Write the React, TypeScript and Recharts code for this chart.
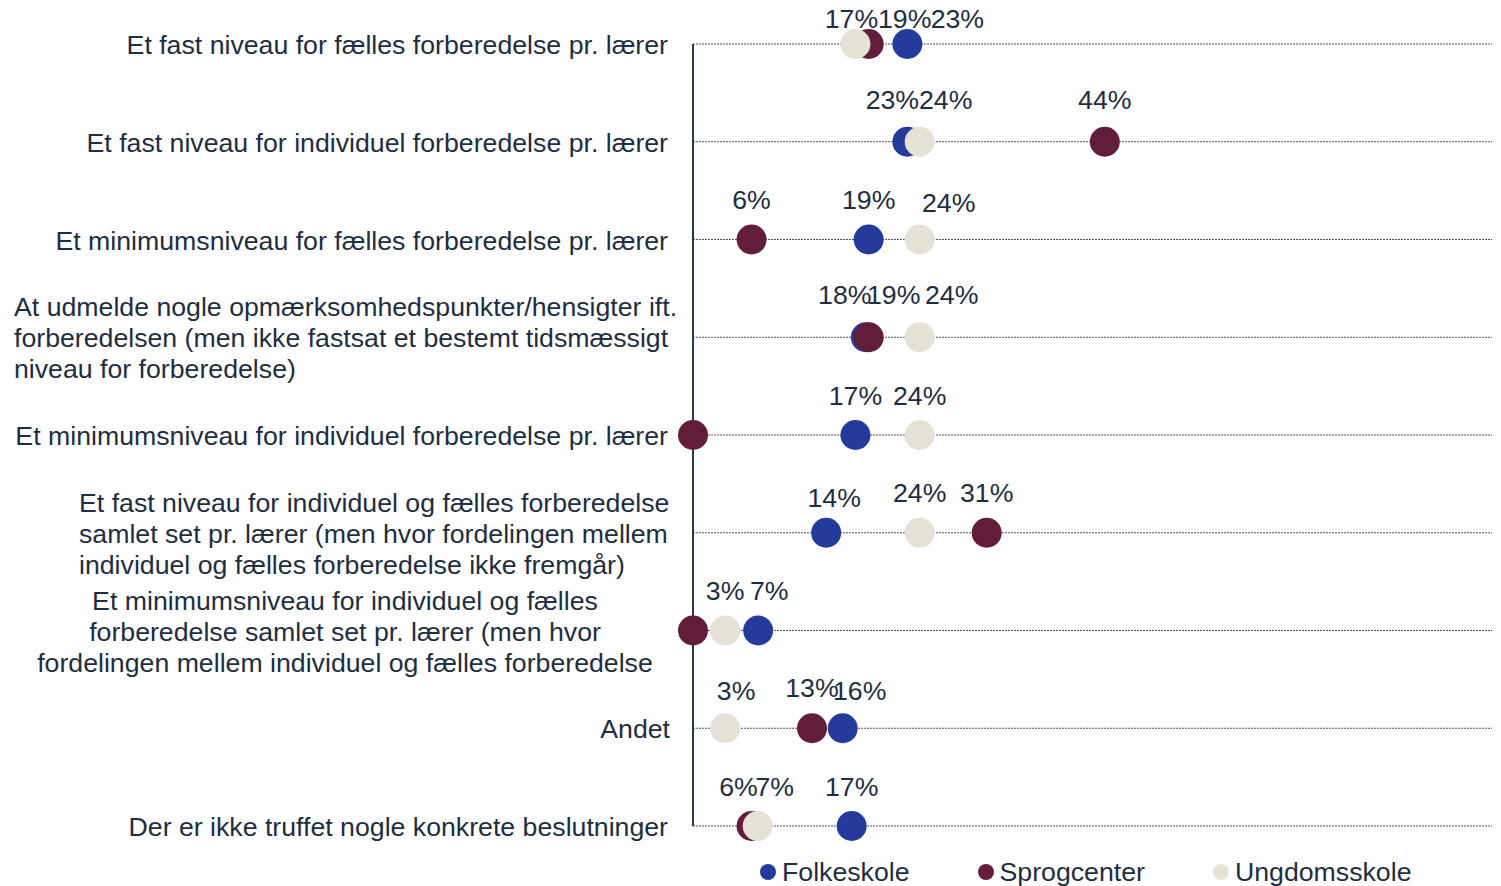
import React from 'react';
import { ScatterChart, Scatter, XAxis, YAxis, CartesianGrid, Legend } from 'recharts';

// ---------- DATA ----------
const categoryLines: string[][] = [
  ['Et fast niveau for fælles forberedelse pr. lærer'],
  ['Et fast niveau for individuel forberedelse pr. lærer'],
  ['Et minimumsniveau for fælles forberedelse pr. lærer'],
  [
    'At udmelde nogle opmærksomhedspunkter/hensigter ift.',
    'forberedelsen (men ikke fastsat et bestemt tidsmæssigt',
    'niveau for forberedelse)',
  ],
  ['Et minimumsniveau for individuel forberedelse pr. lærer'],
  [
    'Et fast niveau for individuel og fælles forberedelse',
    'samlet set pr. lærer (men hvor fordelingen mellem',
    'individuel og fælles forberedelse ikke fremgår)',
  ],
  [
    'Et minimumsniveau for individuel og fælles',
    'forberedelse samlet set pr. lærer (men hvor',
    'fordelingen mellem individuel og fælles forberedelse',
  ],
  ['Andet'],
  ['Der er ikke truffet nogle konkrete beslutninger'],
];

const seriesNames = ['Folkeskole', 'Sprogcenter', 'Ungdomsskole'];

// percentages, one per category row (top to bottom)
const folkeskole = [22.7, 22.7, 18.6, 18.3, 17.2, 14.1, 6.9, 15.85, 16.8];
const sprogcenter = [18.6, 43.6, 6.2, 18.6, 0, 31.1, 0, 12.6, 6.2];
const ungdomsskole = [17.2, 24, 24, 24, 24, 24, 3.4, 3.4, 6.85];

const xDomainMax = 84.6;

// ---------- STYLE / LAYOUT ----------
const COLORS = ['#243B9C', '#621D3B', '#E6E1D6'];
const TEXT_COLOR = '#1E2E42';
const FONT = '"Liberation Sans", Arial, sans-serif';
const FONT_SIZE = 26.7;
const LINE_H = 31;
const AXIS_X = 685;
const DOT_R = 15;

// label alignment per category row
const TICK_ALIGN: { anchor: 'start' | 'middle' | 'end'; x: number }[] = [
  { anchor: 'end', x: 660 },
  { anchor: 'end', x: 660 },
  { anchor: 'end', x: 660 },
  { anchor: 'start', x: 6 },
  { anchor: 'end', x: 660 },
  { anchor: 'start', x: 71 },
  { anchor: 'middle', x: 337 },
  { anchor: 'end', x: 662 },
  { anchor: 'end', x: 660 },
];

// manual data-label nudges [dx, dy] per series per row (to avoid overlaps)
const LABEL_NUDGE: number[][][] = [
  [[50, 14], [-15, -2], [0, 0], [-21, -3], [0, 0], [8, 5], [11, 0], [17, 2], [0, 0]],
  [[36, 14], [0, -2], [0, 0], [25, -3], [0, 0], [0, 0], [0, 0], [0, -1], [-13, 0]],
  [[-4, 14], [26, -2], [29, 3], [32, -3], [0, 0], [0, 0], [0, 0], [11, 2], [17, 0]],
];

const seriesValues = [folkeskole, sprogcenter, ungdomsskole];
const seriesData = seriesValues.map((vals) => vals.map((v, i) => ({ x: v, y: i })));
const rowTicks = categoryLines.map((_, i) => i);

const makeShape = (s: number) => (props: any) => {
  const { cx, cy, payload } = props;
  if (cx == null || cy == null) return <g />;
  const row = payload.y as number;
  const value = payload.x as number;
  const rounded = Math.round(value);
  const [dx, dy] = LABEL_NUDGE[s][row];
  return (
    <g>
      <circle cx={cx} cy={cy} r={DOT_R} fill={COLORS[s]} />
      {rounded !== 0 && (
        <text
          x={cx + dx}
          y={cy - 30.5 + dy}
          textAnchor="middle"
          fill={TEXT_COLOR}
          fontSize={FONT_SIZE}
          fontFamily={FONT}
        >
          {`${rounded}%`}
        </text>
      )}
    </g>
  );
};

const CategoryTick = (props: any) => {
  const { y, payload } = props;
  const row = payload.value as number;
  const lines = categoryLines[row] || [];
  const align = TICK_ALIGN[row];
  const n = lines.length;
  return (
    <g>
      {lines.map((line, i) => (
        <text
          key={i}
          x={align.x}
          y={y + 10 + (i - (n - 1) / 2) * LINE_H}
          textAnchor={align.anchor}
          fill={TEXT_COLOR}
          fontSize={FONT_SIZE}
          fontFamily={FONT}
        >
          {line}
        </text>
      ))}
    </g>
  );
};

const LegendContent = () => (
  <div
    style={{
      display: 'flex',
      alignItems: 'center',
      fontFamily: FONT,
      fontSize: FONT_SIZE,
      color: TEXT_COLOR,
      lineHeight: '30px',
      whiteSpace: 'nowrap',
    }}
  >
    {seriesNames.map((name, i) => (
      <div key={name} style={{ display: 'flex', alignItems: 'center', marginRight: 68 }}>
        <span
          style={{
            display: 'inline-block',
            width: 16,
            height: 16,
            borderRadius: '50%',
            background: COLORS[i],
            marginRight: 6,
          }}
        />
        <span>{name}</span>
      </div>
    ))}
  </div>
);

export default function App() {
  return (
    <div style={{ width: 1493, height: 878, background: '#fff' }}>
      <ScatterChart
        width={1493}
        height={878}
        margin={{ top: 36, right: 9, bottom: 60, left: 0 }}
      >
        <CartesianGrid
          horizontal
          vertical={false}
          stroke="#4A5564"
          strokeDasharray="2 1"
          strokeWidth={1}
        />
        <XAxis type="number" dataKey="x" domain={[0, xDomainMax]} hide />
        <YAxis
          type="number"
          dataKey="y"
          domain={[0, categoryLines.length - 1]}
          reversed
          ticks={rowTicks}
          interval={0}
          width={AXIS_X}
          tickLine={false}
          axisLine={{ stroke: '#2A3A4C', strokeWidth: 2 }}
          tick={(p: any) => <CategoryTick {...p} />}
        />
        <Legend
          layout="horizontal"
          verticalAlign="middle"
          align="center"
          wrapperStyle={{ top: 849, left: 752, width: 740, height: 30 }}
          content={() => <LegendContent />}
        />
        {seriesNames.map((name, s) => (
          <Scatter
            key={name}
            name={name}
            data={seriesData[s]}
            fill={COLORS[s]}
            shape={makeShape(s)}
            isAnimationActive={false}
          />
        ))}
      </ScatterChart>
    </div>
  );
}
